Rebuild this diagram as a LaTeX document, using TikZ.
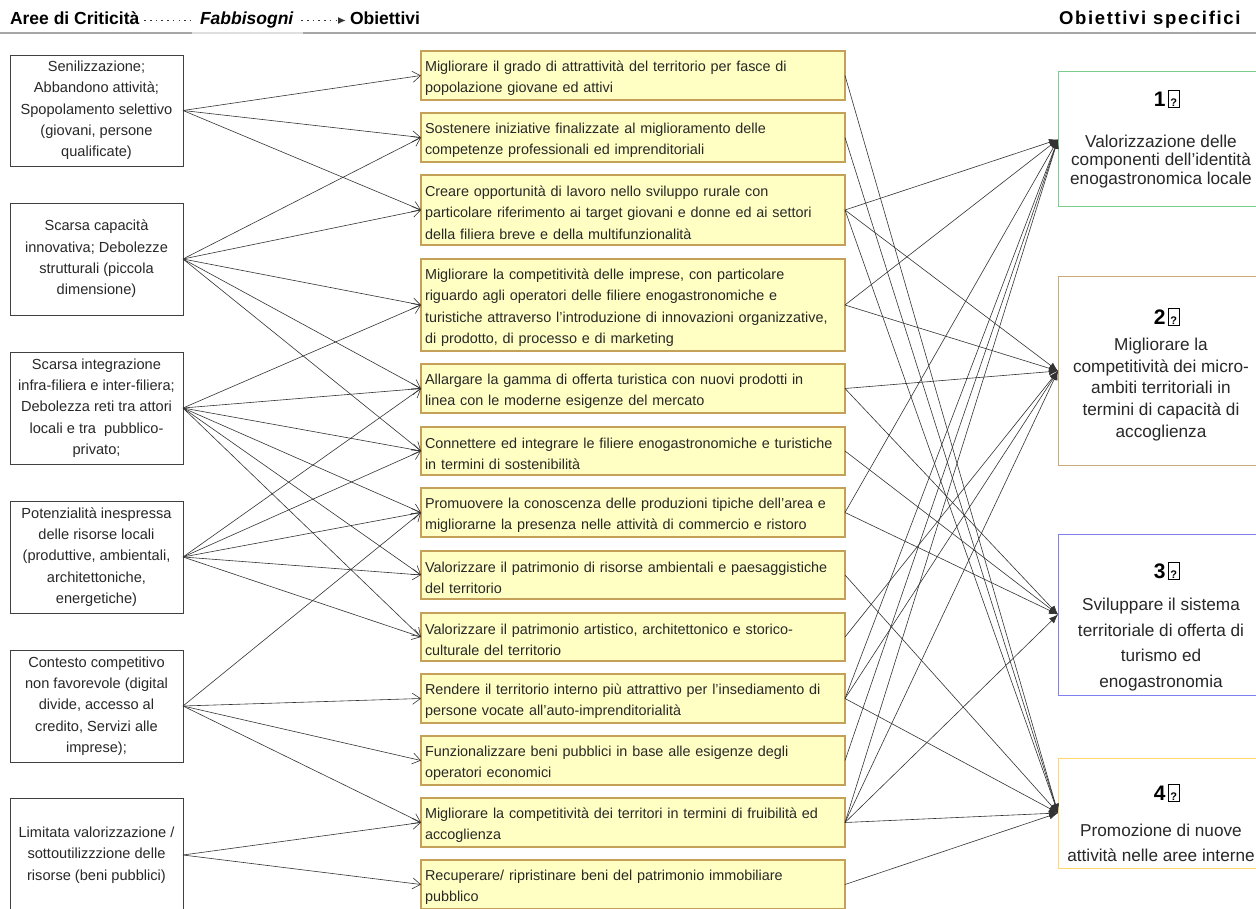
\documentclass[tikz,border=0pt]{standalone}
\usepackage{fontspec}
\setmainfont{Liberation Sans}
\usetikzlibrary{arrows.meta}
\definecolor{midfill}{RGB}{255,255,196}
\definecolor{midborder}{RGB}{196,160,88}
\definecolor{rone}{RGB}{120,205,140}
\definecolor{rtwo}{RGB}{200,170,120}
\definecolor{rthree}{RGB}{128,128,240}
\definecolor{rfour}{RGB}{255,215,110}
\definecolor{txt}{RGB}{40,40,40}
\newcommand{\fntbox}{\fontsize{14.6}{21.3}\selectfont}
\newcommand{\fntmid}{\fontsize{14.4}{21.5}\selectfont}
\newcommand{\fnthead}{\fontsize{17.5}{20}\selectfont}
\newcommand{\fnttitle}{\fontsize{21}{24}\selectfont}
\newcommand{\qbx}{{\fboxsep=0pt\fboxrule=0.8pt\fbox{\makebox[11pt]{\rule[-0.5pt]{0pt}{15.5pt}\fontsize{11}{11}\selectfont\bfseries ?}}}}
\newcommand{\topstrut}{\rule{0pt}{16pt}}
\begin{document}
\begin{tikzpicture}[x=1pt,y=-1pt,
  every node/.style={inner sep=0pt, outer sep=0pt},
  lbox/.style={draw=black!75, line width=0.8pt, fill=white, minimum width=173pt, align=center, text=txt, font=\fntbox, execute at begin node=\topstrut},
  mbox/.style={draw=midborder, line width=1.2pt, fill=midfill, minimum width=424pt, text width=416pt, inner xsep=4pt, align=left, text=txt, font=\fntmid, execute at begin node=\topstrut},
  rbox/.style={line width=1pt, fill=white, minimum width=206pt},
  rtitle/.style={font=\fnttitle\bfseries, text=black},
  rbody/.style={align=center, text=txt},
  head/.style={anchor=base west, font=\fnthead\bfseries, text=black, text height=12pt, text depth=3pt},
  hdot/.style={draw=black!80, line width=1.6pt, dash pattern=on 1.5pt off 4.2pt},
  lc/.style={draw=black!80, line width=0.6pt, -{Straight Barb[length=8pt,width=11pt]}},
  rc/.style={draw=black!80, line width=0.6pt, -{Latex[length=9pt,width=7pt]}}
]
\useasboundingbox (0,0) rectangle (1256,909);
\fill[white] (0,0) rectangle (1256,909);

% header
\draw[gray!70, line width=1.5pt] (0,33) -- (1256,33);
\draw[gray!25, line width=1.5pt] (192,33) -- (303,33);
\node[head] (hA) at (10,25) {Aree di Criticità};
\node[head, font=\fnthead\bfseries\itshape] (hF) at (200,25) {Fabbisogni};
\node[head] (hO) at (350,25) {Obiettivi};
\node[head, font=\fontsize{18.5}{20}\selectfont\bfseries] (hS) at (1059,25) {\addfontfeature{LetterSpace=9}Obiettivi specifici};
\draw[hdot, shorten <=5pt, shorten >=9pt] (hA.east) -- (hF.west);
\draw[hdot, shorten <=8pt, shorten >=4pt, -{Latex[length=8pt,width=7pt]}] (hF.east) -- (hO.west);

% left boxes
\node[lbox, minimum height=111pt] (L1) at (96.5,110.5) {Senilizzazione;\\Abbandono attività;\\Spopolamento selettivo\\(giovani, persone\\qualificate)};
\node[lbox, minimum height=112pt] (L2) at (96.5,259) {Scarsa capacità\\innovativa; Debolezze\\strutturali (piccola\\dimensione)};
\node[lbox, minimum height=112pt] (L3) at (96.5,408) {Scarsa integrazione\\infra-filiera e inter-filiera;\\Debolezza reti tra attori\\locali e tra\ \ pubblico-\\privato;};
\node[lbox, minimum height=112pt] (L4) at (96.5,557) {Potenzialità inespressa\\delle risorse locali\\(produttive, ambientali,\\architettoniche,\\energetiche)};
\node[lbox, minimum height=112pt] (L5) at (96.5,706) {Contesto competitivo\\non favorevole (digital\\divide, accesso al\\credito, Servizi alle\\imprese);};
\node[lbox, minimum height=114pt] (L6) at (96.5,855) {Limitata valorizzazione /\\sottoutilizzzione delle\\risorse (beni pubblici)};

% middle boxes
\node[mbox, minimum height=49pt] (M1) at (633,75.5) {Migliorare il grado di attrattività del territorio per fasce di\\popolazione giovane ed attivi};
\node[mbox, minimum height=49pt] (M2) at (633,137.5) {Sostenere iniziative finalizzate al miglioramento delle\\competenze professionali ed imprenditoriali};
\node[mbox, minimum height=70pt] (M3) at (633,210) {Creare opportunità di lavoro nello sviluppo rurale con\\particolare riferimento ai target giovani e donne ed ai settori\\della filiera breve e della multifunzionalità};
\node[mbox, minimum height=92pt] (M4) at (633,305) {Migliorare la competitività delle imprese, con particolare\\riguardo agli operatori delle filiere enogastronomiche e\\turistiche attraverso l’introduzione di innovazioni organizzative,\\di prodotto, di processo e di marketing};
\node[mbox, minimum height=49pt] (M5) at (633,388.5) {Allargare la gamma di offerta turistica con nuovi prodotti in\\linea con le moderne esigenze del mercato};
\node[mbox, minimum height=48pt] (M6) at (633,451) {\mbox{Connettere ed integrare le filiere enogastronomiche e turistiche}\\in termini di sostenibilità};
\node[mbox, minimum height=49pt] (M7) at (633,512.5) {Promuovere la conoscenza delle produzioni tipiche dell’area e\\migliorarne la presenza nelle attività di commercio e ristoro};
\node[mbox, minimum height=48pt] (M8) at (633,575) {Valorizzare il patrimonio di risorse ambientali e paesaggistiche\\del territorio};
\node[mbox, minimum height=48pt] (M9) at (633,637) {Valorizzare il patrimonio artistico, architettonico e storico-\\culturale del territorio};
\node[mbox, minimum height=49pt] (M10) at (633,698.5) {Rendere il territorio interno più attrattivo per l’insediamento di\\persone vocate all’auto-imprenditorialità};
\node[mbox, minimum height=49pt] (M11) at (633,760.5) {Funzionalizzare beni pubblici in base alle esigenze degli\\operatori economici};
\node[mbox, minimum height=49pt] (M12) at (633,822.5) {Migliorare la competitività dei territori in termini di fruibilità ed\\accoglienza};
\node[mbox, minimum height=49pt] (M13) at (633,884.5) {Recuperare/ ripristinare beni del patrimonio immobiliare\\pubblico};

% right boxes
\node[rbox, draw=rone, minimum height=135pt] (R1) at (1161,139.5) {};
\node[rbox, draw=rtwo, minimum height=188pt] (R2) at (1161,371) {};
\node[rbox, draw=rthree, minimum height=161pt] (R3) at (1161,614.5) {};
\node[rbox, draw=rfour, minimum height=110pt] (R4) at (1161,813) {};

\node[rtitle] (R1t) at (1167,99) {1\kern2pt\qbx};
\node[rbody, font=\fontsize{17.2}{18.7}\selectfont] (R1b) at (1161,161.5) {Valorizzazione delle\\componenti dell’identità\\enogastronomica locale};
\node[rtitle] (R2t) at (1167,317) {2\kern2pt\qbx};
\node[rbody, font=\fontsize{17.2}{21.7}\selectfont] (R2b) at (1161,389.5) {Migliorare la\\competitività dei micro-\\ambiti territoriali in\\termini di capacità di\\accoglienza};
\node[rtitle] (R3t) at (1167,571) {3\kern2pt\qbx};
\node[rbody, font=\fontsize{17.2}{25.7}\selectfont] (R3b) at (1161,644.5) {Sviluppare il sistema\\territoriale di offerta di\\turismo ed\\enogastronomia};
\node[rtitle] (R4t) at (1167,793) {4\kern2pt\qbx};
\node[rbody, font=\fontsize{17.2}{25}\selectfont] (R4b) at (1161,842.5) {Promozione di nuove\\attività nelle aree interne};

% connectors left -> middle
\foreach \a/\b in {L1/M1, L1/M2, L1/M3,
  L2/M2, L2/M3, L2/M4, L2/M5, L2/M6,
  L3/M4, L3/M5, L3/M6, L3/M7, L3/M8, L3/M9,
  L4/M5, L4/M6, L4/M7, L4/M8, L4/M9,
  L5/M7, L5/M10, L5/M11, L5/M12,
  L6/M12, L6/M13}
  \draw[lc] (\a.east) -- (\b.west);

% connectors middle -> right
\foreach \a/\b in {M1/R4, M2/R4, M3/R1, M3/R2, M3/R4,
  M4/R1, M4/R2, M5/R2, M5/R3, M6/R3, M7/R1, M7/R3,
  M8/R4, M9/R2, M10/R1, M10/R2, M10/R4, M11/R1,
  M12/R1, M12/R2, M12/R3, M12/R4, M13/R4}
  \draw[rc] (\a.east) -- (\b.west);
\end{tikzpicture}
\end{document}
